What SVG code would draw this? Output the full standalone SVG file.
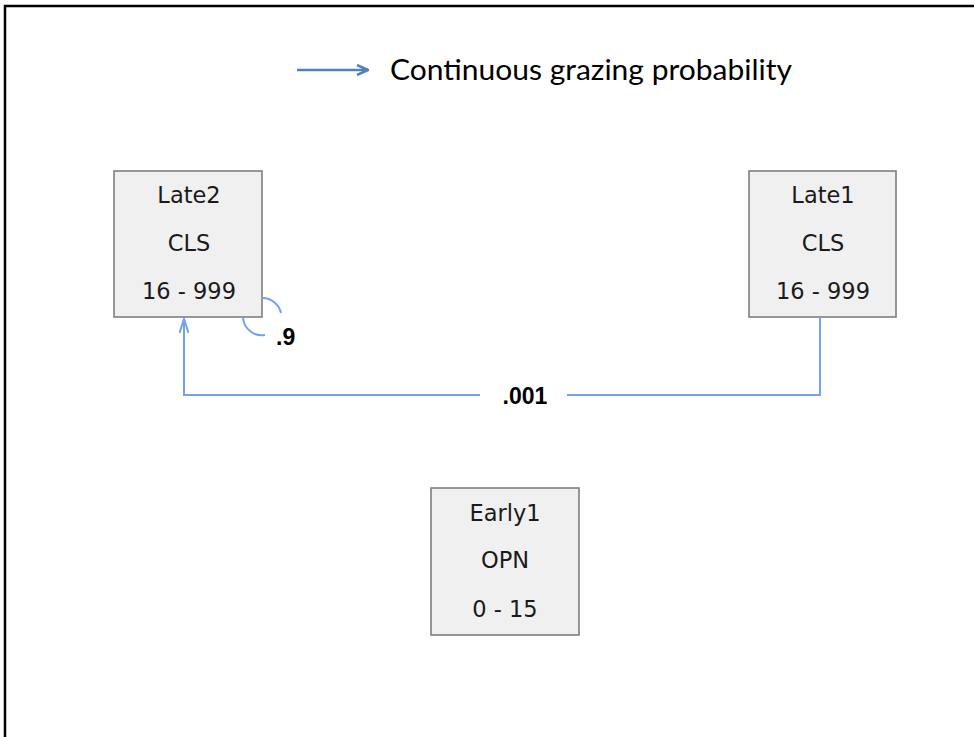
<svg xmlns="http://www.w3.org/2000/svg" width="974" height="737" viewBox="0 0 974 737">
<style>
.box{fill:#f0f0f0;stroke:#7f7f7f;stroke-width:1.6}
.nt{font-family:"DejaVu Sans",Verdana,sans-serif;font-size:22.5px;fill:#1a1a1a;text-anchor:middle}
.lbl{font-family:"Liberation Sans",Arial,sans-serif;font-size:23px;font-weight:bold;fill:#000}
.conn{fill:none;stroke:#74a2ef;stroke-width:2}
</style>
<defs>
<marker id="open" viewBox="0 0 16 10" refX="15" refY="5" markerWidth="16" markerHeight="10" markerUnits="userSpaceOnUse" orient="auto">
<path d="M1,0.5 L15,5 L1,9.5" fill="none" stroke="#74a2ef" stroke-width="2"/>
</marker>
<marker id="leg" viewBox="0 0 14 12" refX="13" refY="6" markerWidth="14" markerHeight="12" markerUnits="userSpaceOnUse" orient="auto">
<path d="M2,1 L13,6 L2,11" fill="none" stroke="#4f81bd" stroke-width="2.5"/>
</marker>
</defs>
<rect width="974" height="737" fill="#fff"/>
<path d="M5,740 V6 H980" fill="none" stroke="#000" stroke-width="2.5"/>
<g id="legend">
<line x1="297" y1="70" x2="368" y2="70" stroke="#4f81bd" stroke-width="2.5" marker-end="url(#leg)"/>
<text x="390" y="80" font-family="Lato,'Liberation Sans',Arial,sans-serif" font-size="28" fill="#000" textLength="402" lengthAdjust="spacingAndGlyphs">Continuous grazing probability</text>
</g>
<g id="connectors">
<path class="conn" d="M820,318 V395 H567"/>
<path class="conn" d="M480,395 H184 V319" marker-end="url(#open)"/>
<path class="conn" d="M263,298 A19,19 0 0 1 281,313"/>
<path class="conn" d="M243,318 A19,19 0 0 0 265,335"/>
<text class="lbl" x="525" y="404" text-anchor="middle">.001</text>
<text class="lbl" x="276" y="345">.9</text>
</g>
<g id="late2">
<rect class="box" x="114" y="171" width="148" height="146"/>
<text class="nt" x="189" y="203">Late2</text>
<text class="nt" x="189" y="251">CLS</text>
<text class="nt" x="189" y="299">16 - 999</text>
</g>
<g id="late1">
<rect class="box" x="749" y="171" width="147" height="146"/>
<text class="nt" x="823" y="203">Late1</text>
<text class="nt" x="823" y="251">CLS</text>
<text class="nt" x="823" y="299">16 - 999</text>
</g>
<g id="early1">
<rect class="box" x="431" y="488" width="148" height="147"/>
<text class="nt" x="505" y="521">Early1</text>
<text class="nt" x="505" y="568">OPN</text>
<text class="nt" x="505" y="617">0 - 15</text>
</g>
</svg>
